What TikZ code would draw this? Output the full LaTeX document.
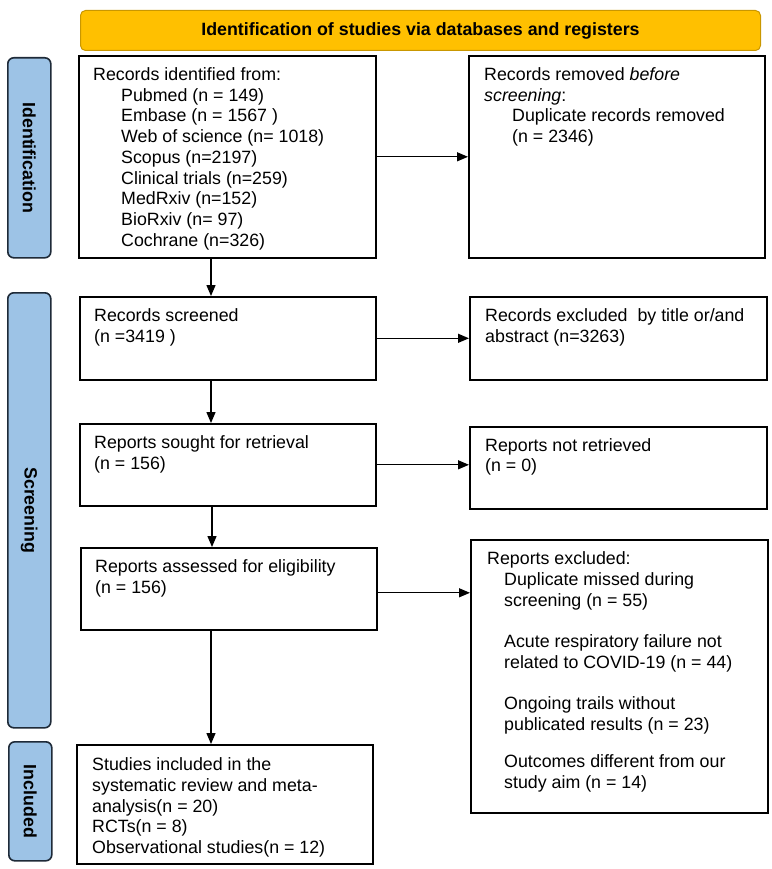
\documentclass[tikz,border=0pt]{standalone}
\usepackage{fontspec}
\setmainfont{Liberation Sans}
\usetikzlibrary{arrows.meta}
\definecolor{hdrfill}{HTML}{FFC000}
\definecolor{hdrdraw}{HTML}{C99700}
\definecolor{barfill}{HTML}{9DC3E6}
\definecolor{bardraw}{HTML}{1E2A38}
\begin{document}
\begin{tikzpicture}[x=1pt,y=-1pt,
  fbox/.style={draw=black, line width=1.6pt, fill=white, anchor=north west, inner sep=0pt},
  txt/.style={anchor=north west, inner sep=0pt, align=left, font=\fontsize{17.8}{20.7}\selectfont},
  arr/.style={-{Triangle[length=11pt,width=9pt]}, line width=1.3pt},
  sidebar/.style={draw=bardraw, fill=barfill, line width=1.6pt, rounded corners=6pt, anchor=north west, inner sep=0pt, minimum width=43pt},
  sidelabel/.style={rotate=-90, inner sep=0pt, font=\bfseries\fontsize{17.8}{20}\selectfont}]
\useasboundingbox (0,0) rectangle (771,869);

% header
\node[draw=hdrdraw, fill=hdrfill, line width=1pt, rounded corners=5pt, minimum width=680pt, minimum height=40pt, anchor=north west, inner sep=0pt, font=\bfseries\fontsize{17.8}{20}\selectfont] (hdr) at (80,10) {Identification of studies via databases and registers};

% side bars
\node[sidebar, minimum height=200pt] (sbI) at (7,57) {};
\node[sidelabel] (lbI) at (sbI.center) {Identification};
\node[sidebar, minimum height=435pt] (sbS) at (7,292) {};
\node[sidelabel] (lbS) at (sbS.center) {Screening};
\node[sidebar, minimum height=119pt] (sbN) at (8,741) {};
\node[sidelabel] (lbN) at (sbN.center) {Included};

% boxes
\node[fbox, minimum width=297pt, minimum height=202pt] (b1) at (78,55) {};
\node[fbox, minimum width=296pt, minimum height=202pt] (b2) at (468,55) {};
\node[fbox, minimum width=296pt, minimum height=83pt] (s1) at (79,296) {};
\node[fbox, minimum width=297pt, minimum height=83pt] (s2) at (469,296) {};
\node[fbox, minimum width=296pt, minimum height=82pt] (r1) at (79,423) {};
\node[fbox, minimum width=297pt, minimum height=82pt] (r2) at (469,426) {};
\node[fbox, minimum width=296pt, minimum height=82pt] (a1) at (80,547) {};
\node[fbox, minimum width=297pt, minimum height=273pt] (a2) at (470,539) {};
\node[fbox, minimum width=296pt, minimum height=119pt] (inc) at (76,744) {};

% texts
\node[txt] (b1t) at ([xshift=15pt,yshift=-12.5pt]b1.north west) {Records identified from:\\
\hspace*{28pt}Pubmed (n = 149)\\
\hspace*{28pt}Embase (n = 1567 )\\
\hspace*{28pt}Web of science (n= 1018)\\
\hspace*{28pt}Scopus (n=2197)\\
\hspace*{28pt}Clinical trials (n=259)\\
\hspace*{28pt}MedRxiv (n=152)\\
\hspace*{28pt}BioRxiv (n= 97)\\
\hspace*{28pt}Cochrane (n=326)};
\node[txt] (b2t) at ([xshift=16pt,yshift=-12.5pt]b2.north west) {Records removed \textit{before}\\
\textit{screening}:\\
\hspace*{28pt}Duplicate records removed\\
\hspace*{28pt}(n = 2346)};
\node[txt] (s1t) at ([xshift=15pt,yshift=-12.5pt]s1.north west) {Records screened\\ (n =3419 )};
\node[txt] (s2t) at ([xshift=16pt,yshift=-12.5pt]s2.north west) {Records excluded \ by title or/and\\ abstract (n=3263)};
\node[txt] (r1t) at ([xshift=15pt,yshift=-12.5pt]r1.north west) {Reports sought for retrieval\\ (n = 156)};
\node[txt] (r2t) at ([xshift=16pt,yshift=-12pt]r2.north west) {Reports not retrieved\\ (n = 0)};
\node[txt] (a1t) at ([xshift=15pt,yshift=-12.5pt]a1.north west) {Reports assessed for eligibility\\ (n = 156)};
\node[txt] (a2t) at ([xshift=17pt,yshift=-12.5pt]a2.north west) {Reports excluded:\\
\hspace*{17pt}Duplicate missed during\\
\hspace*{17pt}screening (n = 55)\\[20.7pt]
\hspace*{17pt}Acute respiratory failure not\\
\hspace*{17pt}related to COVID-19 (n = 44)\\[20.7pt]
\hspace*{17pt}Ongoing trails without\\
\hspace*{17pt}publicated results (n = 23)\\[17pt]
\hspace*{17pt}Outcomes different from our\\
\hspace*{17pt}study aim (n = 14)};
\node[txt] (inct) at ([xshift=16pt,yshift=-13.5pt]inc.north west) {Studies included in the\\
systematic review and meta-\\
analysis(n = 20)\\
RCTs(n = 8)\\
Observational studies(n = 12)};

% connectors
\coordinate (colA) at (211,0);
\coordinate (colB) at (212,0);
\draw[arr] (b1.east) -- (b2.west);
\draw[arr] (s1.east) -- (s2.west);
\draw[arr] (r1.east) -- (r1.east -| r2.west);
\draw[arr] ([yshift=-4pt]a1.east) -- ([yshift=-4pt]a1.east -| a2.west);
\draw[arr] (colA |- b1.south) -- (colA |- s1.north);
\draw[arr] (colA |- s1.south) -- (colA |- r1.north);
\draw[arr] (colB |- r1.south) -- (colB |- a1.north);
\draw[arr] (colA |- a1.south) -- (colA |- inc.north);
\end{tikzpicture}
\end{document}
